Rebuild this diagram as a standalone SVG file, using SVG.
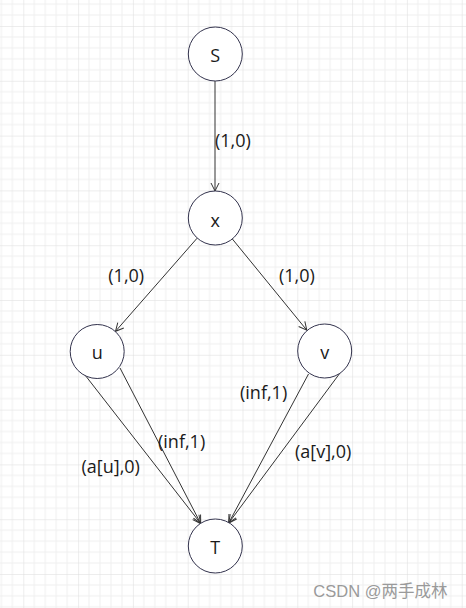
<svg xmlns="http://www.w3.org/2000/svg" width="466" height="608" viewBox="0 0 466 608">
<defs>
<pattern id="grid" patternUnits="userSpaceOnUse" x="23.3" y="26" width="54.8" height="54.8">
<path d="M10.96,0V54.8M21.92,0V54.8M32.88,0V54.8M43.84,0V54.8M0,10.96H54.8M0,21.92H54.8M0,32.88H54.8M0,43.84H54.8" stroke="#efefef" stroke-width="1" fill="none"/>
<path d="M0,0V54.8M0,0H54.8" stroke="#dcdcdc" stroke-width="1" fill="none"/>
</pattern>
<marker id="arr" markerUnits="userSpaceOnUse" markerWidth="12" markerHeight="12" viewBox="-10 -6 12 12" refX="0" refY="0" orient="auto">
<path d="M-8,-4L0,0L-8,4" fill="none" stroke="#333" stroke-width="1"/>
</marker>
</defs>
<style>
.node circle{fill:#fff;stroke:#33334d;stroke-width:1}
.node text{font-family:"Open Sans","Noto Sans",sans-serif;font-size:18px;fill:#1a1a1a;text-anchor:middle}
.edge line{stroke:#333;stroke-width:1;marker-end:url(#arr)}
.lbl{font-family:"Open Sans","Noto Sans",sans-serif;font-size:18px;fill:#1a1a1a}
.wm{font-family:"Liberation Sans","Noto Sans CJK SC",sans-serif;font-size:16.5px;fill:#9a9a9a}
</style>
<rect width="466" height="608" fill="#fff"/>
<rect width="466" height="608" fill="url(#grid)"/>
<g id="connectors" class="edge">
<line x1="215" y1="81" x2="215" y2="191"/>
<line x1="197.1" y1="238.2" x2="115.5" y2="331.3"/>
<line x1="232.2" y1="238.8" x2="306.8" y2="330.2"/>
<line x1="85" y1="375" x2="200.7" y2="523.5"/>
<line x1="120" y1="368" x2="200.7" y2="523.5"/>
<line x1="308.5" y1="374" x2="228.7" y2="523"/>
<line x1="340" y1="373" x2="228.7" y2="523"/>
</g>
<g id="labels" class="lbl">
<text x="215" y="146.5">(1,0)</text>
<text x="108.3" y="282">(1,0)</text>
<text x="279" y="282">(1,0)</text>
<text x="158" y="447.5">(inf,1)</text>
<text x="81.5" y="473">(a[u],0)</text>
<text x="240" y="399">(inf,1)</text>
<text x="295" y="458">(a[v],0)</text>
</g>
<g id="node-S" class="node"><circle cx="215.3" cy="54" r="27"/><text x="215.3" y="61.7">S</text></g>
<g id="node-x" class="node"><circle cx="215.3" cy="218" r="27"/><text x="215.3" y="226.5">x</text></g>
<g id="node-u" class="node"><circle cx="97.2" cy="351.5" r="27"/><text x="97.2" y="359.3">u</text></g>
<g id="node-v" class="node"><circle cx="324.7" cy="351" r="27"/><text x="324.7" y="359.3">v</text></g>
<g id="node-T" class="node"><circle cx="215.3" cy="546" r="27"/><text x="215.3" y="554.3">T</text></g>
<text class="wm" x="313.3" y="596.5">CSDN @两手成林</text>
</svg>
